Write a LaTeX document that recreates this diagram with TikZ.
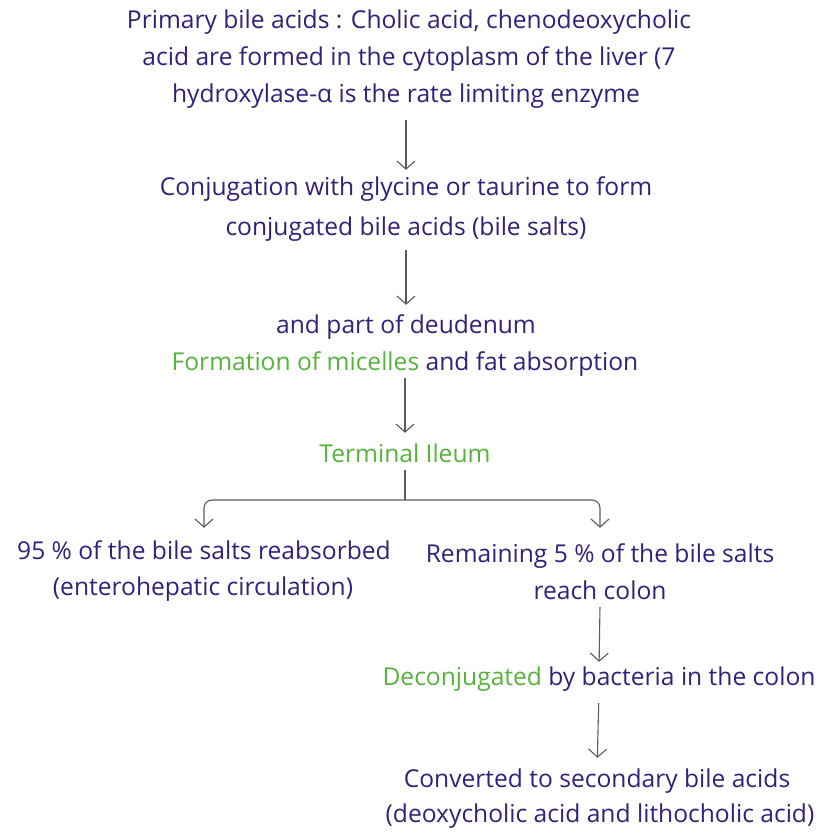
\documentclass[tikz,border=0pt]{standalone}
\usepackage{fontspec}
\setmainfont{Open Sans}
\usetikzlibrary{arrows.meta}
\definecolor{txt}{HTML}{33207A}
\definecolor{grn}{HTML}{55B33B}
\definecolor{arrc}{HTML}{5A5A5A}
\tikzset{
  ln/.style={anchor=base, inner xsep=0pt, inner ysep=0pt, text height=15pt, text depth=6pt,
    text=txt, font=\fontsize{24.6}{28}\selectfont},
  arr/.style={draw=arrc, line width=1.1pt, -{Straight Barb[length=8pt,width=18pt,line width=1.1pt]}},
  plain/.style={draw=arrc, line width=1.1pt}
}
\begin{document}
\begin{tikzpicture}[x=1pt,y=-1pt]
\useasboundingbox (0,0) rectangle (823,835);
\node[ln] (l1) at (409,28) {Primary bile acids : Cholic acid, chenodeoxycholic};
\node[ln] (l2) at (409,65) {acid are formed in the cytoplasm of the liver (7};
\node[ln] (l3) at (406,102) {hydroxylase-α is the rate limiting enzyme};
\node[ln] (l4) at (406,195) {Conjugation with glycine or taurine to form};
\node[ln] (l5) at (406,235) {conjugated bile acids (bile salts)};
\node[ln] (l6) at (406,333) {and part of deudenum};
\node[ln] (l7) at (405,370) {{\color{grn}Formation of micelles} and fat absorption};
\node[ln, text=grn] (t) at (405,462) {Terminal Ileum};
\node[ln] (a1) at (204,559) {95 \% of the bile salts reabsorbed};
\node[ln] (a2) at (203,595) {(enterohepatic circulation)};
\node[ln] (b1) at (600,562) {Remaining 5 \% of the bile salts};
\node[ln] (b2) at (600,599) {reach colon};
\node[ln] (d) at (599,685) {{\color{grn}Deconjugated} by bacteria in the colon};
\node[ln] (c1) at (597,787) {Converted to secondary bile acids};
\node[ln] (c2) at (600,822) {(deoxycholic acid and lithocholic acid)};
\draw[arr, shorten <=12pt, shorten >=10pt] (l3.south) -- (l4.north);
\draw[arr, shorten <=9pt, shorten >=13pt] (l5.south) -- (l6.north);
\draw[arr, shorten <=2pt, shorten >=14pt] (l7.south) -- (t.north);
\coordinate (j) at (t.south |- 0,500);
\draw[plain, shorten <=2pt] (t.south) -- (j);
\draw[arr, rounded corners=8pt, shorten >=16pt] (j) -| (a1.north);
\draw[arr, rounded corners=8pt, shorten >=19pt] (j) -| (b1.north);
\draw[arr, shorten <=2pt, shorten >=8pt] (b2.south) -- (d.north);
\draw[arr, shorten <=12pt, shorten >=14pt] (d.south) -- (c1.north);
\end{tikzpicture}
\end{document}
